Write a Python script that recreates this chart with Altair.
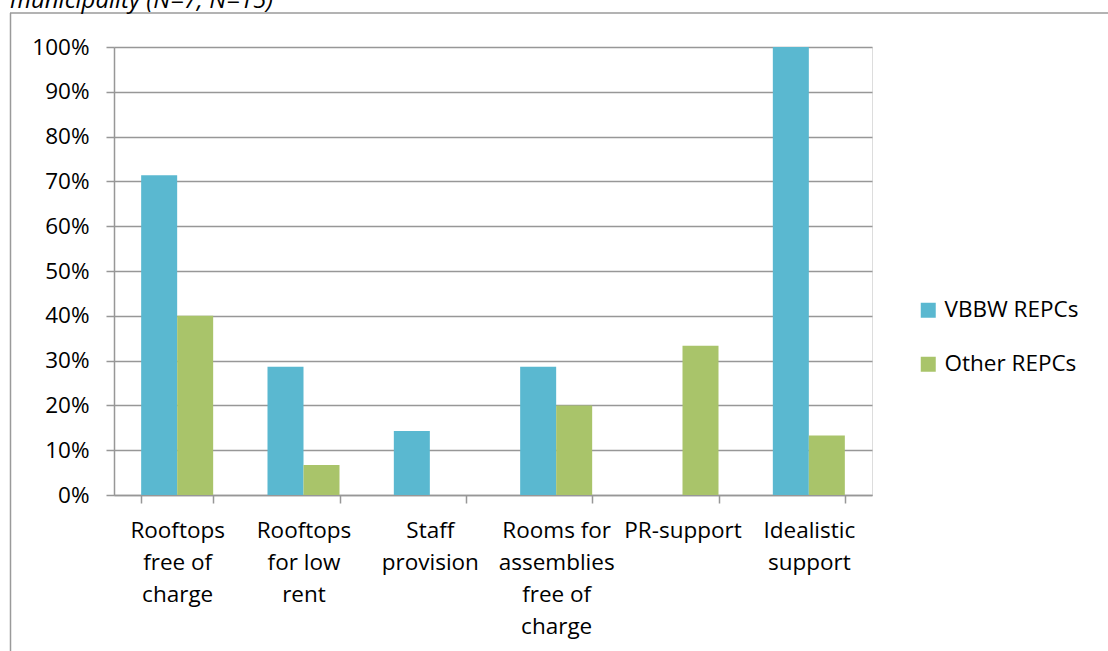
import altair as alt
import pandas as pd

# Categories ("|" marks a line break in the axis label)
categories = [
    "Rooftops|free of|charge",
    "Rooftops|for low|rent",
    "Staff|provision",
    "Rooms for|assemblies|free of|charge",
    "PR-support",
    "Idealistic|support",
]
series = ["VBBW REPCs", "Other REPCs"]
vbbw_share = [0.714, 0.286, 0.143, 0.286, 0.0, 1.0]
other_share = [0.40, 0.067, 0.0, 0.20, 0.333, 0.133]
colors = ["#5AB8D0", "#A9C46A"]
caption = "municipality (N=7; N=15)"

rows = []
for cat, a, b in zip(categories, vbbw_share, other_share):
    rows.append({"category": cat, "group": series[0], "share": a})
    rows.append({"category": cat, "group": series[1], "share": b})
df = pd.DataFrame(rows)

FONT = "Open Sans"
GRID = "#979797"
FS = 22.5

bars = alt.Chart(df).mark_bar().encode(
    x=alt.X(
        "category:N",
        sort=categories,
        title=None,
        scale=alt.Scale(paddingInner=0.43, paddingOuter=0.215),
        axis=alt.Axis(
            labelAngle=0,
            labelExpr="split(datum.label, '|')",
            labelFontSize=FS,
            labelFont=FONT,
            labelColor="black",
            labelLineHeight=32,
            labelPadding=16,
            labelBaseline="top",
            tickBand="extent",
            tickSize=8,
            tickColor=GRID,
            tickWidth=1.5,
            domainColor=GRID,
            domainWidth=1.5,
            grid=False,
        ),
    ),
    xOffset=alt.XOffset("group:N", sort=series,
                        scale=alt.Scale(paddingInner=0, paddingOuter=0)),
    y=alt.Y(
        "share:Q",
        title=None,
        scale=alt.Scale(domain=[0, 1], nice=False),
        axis=alt.Axis(
            format=".0%",
            values=[i / 10 for i in range(11)],
            labelFontSize=FS,
            labelFont=FONT,
            labelColor="black",
            labelPadding=17,
            tickSize=8,
            tickColor=GRID,
            tickWidth=1.5,
            domainColor=GRID,
            domainWidth=1.5,
            gridColor=GRID,
            gridWidth=1.5,
            grid=True,
        ),
    ),
    color=alt.Color(
        "group:N",
        sort=series,
        scale=alt.Scale(domain=series, range=colors),
        legend=alt.Legend(
            title=None,
            orient="none",
            legendX=803,
            legendY=252,
            symbolType="square",
            symbolSize=225,
            symbolStrokeWidth=0,
            labelFontSize=FS,
            labelFont=FONT,
            labelColor="black",
            rowPadding=31,
            labelOffset=5,
        ),
    ),
)

# Outer frame of the figure
one = alt.Data(values=[{}])
frame_top = alt.Chart(one).mark_rule(color="#9a9a9a", strokeWidth=1.5).encode(
    x=alt.value(-104), x2=alt.value(1010), y=alt.value(-34)
)
frame_left = alt.Chart(one).mark_rule(color="#9a9a9a", strokeWidth=1.5).encode(
    x=alt.value(-103.5), y=alt.value(-34), y2=alt.value(620)
)
caption_text = alt.Chart(one).mark_text(
    text=caption, align="left", baseline="alphabetic", fontStyle="italic",
    fontSize=24, font=FONT, color="black"
).encode(x=alt.value(-104), y=alt.value(-39))

chart = alt.layer(bars, frame_top, frame_left, caption_text).properties(
    width=758,
    height=448,
    autosize=alt.AutoSizeParams(type="none"),
    padding={"left": 114, "top": 47, "right": 236, "bottom": 156},
).configure_view(stroke=None).configure(background="white")

chart.save("out.html", embed_options={"renderer": "svg", "actions": False})
